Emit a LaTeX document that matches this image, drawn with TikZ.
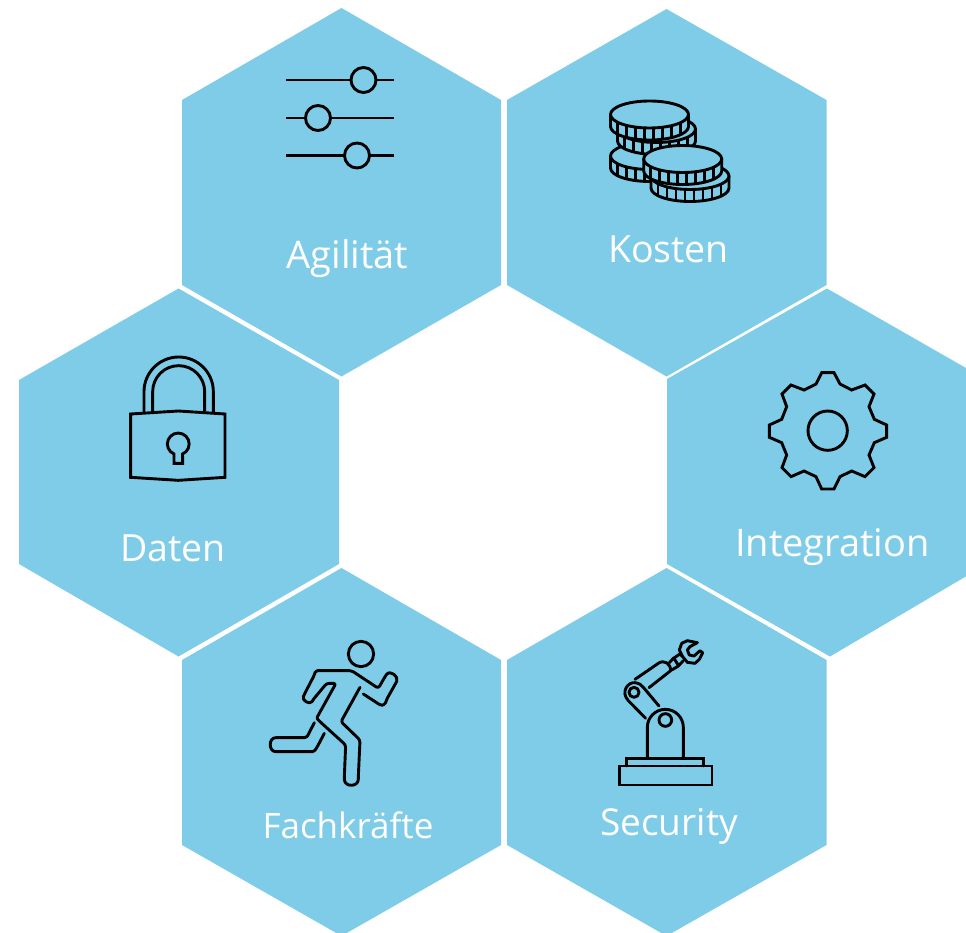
\documentclass[tikz,border=0pt]{standalone}
\usepackage{fontspec}
\setmainfont{Open Sans}
\definecolor{hexblue}{HTML}{7FCCE8}
\newcommand{\coin}[2]{%
  \draw[icon,fill=hexblue] (#1-39,#2) -- (#1-39,#2+12) arc[start angle=180,end angle=0,x radius=39,y radius=13.5] -- (#1+39,#2) -- cycle;
  \draw[icon,fill=hexblue] (#1,#2) ellipse[x radius=39,y radius=13.5];
  \foreach \d in {-32,-23,-14,-5,4,13,22,31}{
    \draw[icon,line cap=butt] ({#1+\d},{#2+13.5*sqrt(1-(\d/39)*(\d/39))}) -- ++(0,12);
  }
}
\tikzset{
  x=1pt,y=-1pt,
  hexa/.style={fill=hexblue,draw=none},
  icon/.style={draw=black,line width=2.9pt,line join=round,line cap=round},
  lbl/.style={text=white,font=\fontsize{38}{42}\selectfont,anchor=base,inner sep=0pt},
  lblsmall/.style={lbl,font=\fontsize{37.5}{42}\selectfont}
}
\begin{document}
\begin{tikzpicture}
\useasboundingbox (0,0) rectangle (966,933);
\clip (0,0) rectangle (966,933);
% hexagons
\fill[hexa] (341.5,8) -- (501,100) -- (501,285) -- (341.5,376.5) -- (182,285) -- (182,100) -- cycle;
\fill[hexa] (666.5,9) -- (826.5,100) -- (826.5,285) -- (666.5,376.5) -- (507,285) -- (507,100) -- cycle;
\fill[hexa] (178.5,288.5) -- (339,380) -- (339,564) -- (178.5,656.5) -- (19,564) -- (19,380) -- cycle;
\fill[hexa] (827,288.5) -- (987,380) -- (987,564) -- (830,656.5) -- (667,564) -- (667,379) -- cycle;
\fill[hexa] (341.5,568) -- (501,660) -- (501,845) -- (341.5,936) -- (182,845) -- (182,660) -- cycle;
\fill[hexa] (666.5,568) -- (826.5,660) -- (826.5,845) -- (666.5,936) -- (507,845) -- (507,660) -- cycle;
% labels
\node[lbl] (agilitaet) at (347.5,269) {Agilität};
\node[lblsmall] (kosten) at (668.5,262) {Kosten};
\node[lblsmall] (daten) at (173,561) {Daten};
\node[lbl] (integration) at (832.5,556) {Integration};
\node[lbl,font=\fontsize{35}{40}\selectfont] (fachkraefte) at (348,838) {Fachkräfte};
\node[lbl,font=\fontsize{37}{42}\selectfont] (security) at (669,835) {Security};
% sliders
\draw[icon,line cap=butt] (286,80) -- (351,80) (376,80) -- (393.5,80);
\draw[icon] (363.5,80) circle[radius=12.5];
\draw[icon,line cap=butt] (286,118) -- (305.5,118) (330.5,118) -- (393.5,118);
\draw[icon] (318,118) circle[radius=12.5];
\draw[icon,line cap=butt] (286,155.5) -- (344.5,155.5) (369.5,155.5) -- (393.5,155.5);
\draw[icon] (357,155.5) circle[radius=12.5];
% coins
\coin{649.5}{156}
\coin{656.5}{129}
\coin{649.5}{114.5}
\coin{690}{176}
\coin{682.7}{159}
% lock
\begin{scope}[shift={(110,345)},scale=1/3]
\draw[icon,line cap=butt] (102,205) -- (102,140) arc[start angle=180,end angle=360,radius=104] -- (310,205);
\draw[icon,line cap=butt] (128,200) -- (128,140) arc[start angle=180,end angle=360,radius=78] -- (284,200);
\draw[icon,line join=miter] (62,207) -- (205,198) -- (345,207) -- (345,397) -- (205,406) -- (62,397) -- cycle;
\draw[icon,line join=miter] (192,327) arc[start angle=113,end angle=427,radius=32.7] -- (218,355) -- (192,355) -- cycle;
\end{scope}
% gear
\begin{scope}[shift={(750,360)},scale=1/3]
\draw[icon,line join=miter] (198,72) -- (215,38) -- (252,38) -- (270,72) -- (305,90) -- (345,75) -- (372,102) -- (357,140) -- (373,178) -- (410,195) -- (410,232) -- (373,248) -- (357,285) -- (372,323) -- (345,350) -- (305,333) -- (270,350) -- (252,387) -- (215,387) -- (198,350) -- (162,333) -- (123,350) -- (96,323) -- (110,285) -- (95,248) -- (58,232) -- (58,195) -- (95,178) -- (110,140) -- (96,102) -- (123,75) -- (162,90) -- cycle;
\draw[icon] (233,212) circle[radius=59];
\end{scope}
% runner
\begin{scope}[shift={(255,630)},scale=1/3]
\draw[icon] (318,72) circle[radius=38];
\draw[icon,rounded corners=2.5pt] (325,192) -- (365,218) .. controls (385,232) and (392,218) .. (395,208) -- (422,160) .. controls (432,140) and (405,118) .. (390,140) -- (370,175) -- (290,122) -- (195,122) .. controls (185,122) and (180,128) .. (178,135) -- (148,193) .. controls (140,212) and (165,225) .. (175,208) -- (215,160) -- (243,160) -- (190,255) .. controls (185,265) and (188,268) .. (195,275) -- (272,345) -- (268,440) .. controls (268,472) and (310,472) .. (310,440) -- (315,330) -- (258,275) -- (315,172);
\draw[icon,rounded corners=2.5pt] (178,278) -- (155,323) -- (70,323) .. controls (40,323) and (40,365) .. (70,365) -- (165,365) .. controls (178,365) and (182,358) .. (187,350) -- (208,310);
\end{scope}
% robot
\begin{scope}[shift={(600,630)},scale=1/3]
\draw[icon,line join=miter] (58,408) rectangle (336,465);
\draw[icon,line join=miter] (80,408) -- (80,386) -- (310,386) -- (310,408);
\draw[icon] (142,386) -- (142,292) arc[start angle=180,end angle=360,radius=54] -- (250,386);
\draw[icon] (196,270) circle[radius=19];
\draw[icon] (102,187) circle[radius=15];
\draw[icon] (137,265) -- (85,212) .. controls (60,185) and (85,155) .. (105,158) .. controls (118,160) and (125,165) .. (130,172) -- (177,228);
\draw[icon] (105,148) -- (175,100) .. controls (192,88) and (212,100) .. (212,122) -- (147,173);
\draw[icon] (208,98) -- (220,85) -- (240,72);
\draw[icon] (215,120) -- (235,108) -- (250,92);
\draw[icon] (222,85) -- (235,106);
\draw[icon] (240,72) -- (248,80) -- (238,60) -- (245,40) -- (262,32) -- (292,38) -- (270,50) -- (262,60) -- (268,75) -- (282,78) -- (300,62) -- (308,68) -- (298,88) -- (285,100) -- (262,97) -- (248,80);
\end{scope}
\end{tikzpicture}
\end{document}
